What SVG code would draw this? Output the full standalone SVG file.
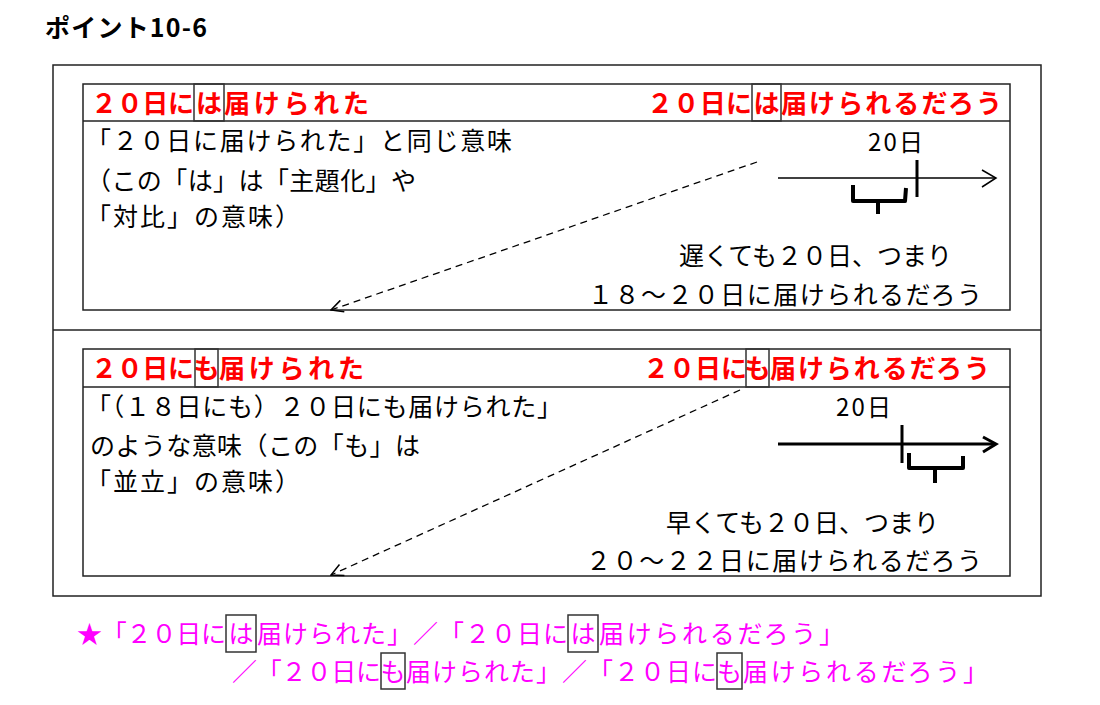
<svg xmlns="http://www.w3.org/2000/svg" width="1100" height="705" viewBox="0 0 1100 705">
<defs>
<style>
text{font-family:"Noto Sans CJK JP","Noto Sans CJK SC",sans-serif;}
.title{font-size:25px;font-weight:bold;fill:#000;}
.hd{font-size:26px;font-weight:bold;fill:#ff0000;}
.bd{font-size:25px;fill:#000;}
.lb{font-size:24px;fill:#000;}
.pk{font-size:25px;fill:#ff00ff;}
.frame{fill:none;stroke:#222;stroke-width:1.5;}
.hl{fill:none;stroke:#333;stroke-width:1.5;}
.axis{fill:none;stroke:#000;stroke-width:1.5;}
.axis2{fill:none;stroke:#000;stroke-width:3;}
.brace{fill:none;stroke:#000;stroke-width:4;stroke-linejoin:round;}
.dash{fill:none;stroke:#000;stroke-width:1.3;stroke-dasharray:7 5;}
</style>
<marker id="openArrow" viewBox="0 0 14 14" refX="13" refY="7" markerWidth="14" markerHeight="14" markerUnits="userSpaceOnUse" orient="auto">
<path d="M1,1 L13,7 L1,13" fill="none" stroke="#000" stroke-width="1.5"/>
</marker>
</defs>
<rect width="1100" height="705" fill="#fff"/>

<g id="title">
<text class="title" x="45" y="37" textLength="162" lengthAdjust="spacing">ポイント10-6</text>
</g>

<g id="outer-frame">
<rect class="frame" x="53" y="65" width="988" height="531"/>
<line class="frame" x1="53" y1="330" x2="1041" y2="330"/>
</g>

<g id="panel-wa">
<rect class="frame" x="83" y="84" width="927" height="226"/>
<line class="frame" x1="83" y1="121" x2="1010" y2="121"/>
<text class="hd" x="91" y="113" textLength="103" lengthAdjust="spacing">２０日に</text>
<rect class="hl" x="194" y="84" width="30" height="37"/>
<text class="hd" x="209" y="113" text-anchor="middle">は</text>
<text class="hd" x="224" y="113" textLength="145" lengthAdjust="spacing">届けられた</text>
<text class="hd" x="647" y="113" textLength="105" lengthAdjust="spacing">２０日に</text>
<rect class="hl" x="752" y="84" width="29" height="37"/>
<text class="hd" x="766.5" y="113" text-anchor="middle">は</text>
<text class="hd" x="781" y="113" textLength="221" lengthAdjust="spacing">届けられるだろう</text>
<text class="bd" x="86" y="150" textLength="426" lengthAdjust="spacing">「２０日に届けられた」と同じ意味</text>
<text class="bd" x="86" y="190" textLength="330" lengthAdjust="spacing">（この「は」は「主題化」や</text>
<text class="bd" x="86" y="226" textLength="214" lengthAdjust="spacing">「対比」の意味）</text>
<text class="lb" x="868" y="151" textLength="55" lengthAdjust="spacing">20日</text>
<line class="axis" x1="778" y1="178" x2="996" y2="178"/>
<path class="axis" d="M982,170 L996,178 L982,187"/>
<line class="axis2" x1="917" y1="160" x2="917" y2="197"/>
<path class="brace" d="M853,185 L853,201 L905,201 L906,188 M878,201 L878,214"/>
<text class="bd" x="679" y="265" textLength="273" lengthAdjust="spacing">遅くても２０日、つまり</text>
<text class="bd" x="588" y="304" textLength="394" lengthAdjust="spacing">１８～２０日に届けられるだろう</text>
</g>

<g id="panel-mo">
<rect class="frame" x="83" y="349" width="927" height="227"/>
<line class="frame" x1="83" y1="387" x2="1010" y2="387"/>
<text class="hd" x="91" y="378" textLength="103" lengthAdjust="spacing">２０日に</text>
<rect class="hl" x="195" y="349" width="23" height="38"/>
<text class="hd" x="206.5" y="378" text-anchor="middle">も</text>
<text class="hd" x="219" y="378" textLength="145" lengthAdjust="spacing">届けられた</text>
<text class="hd" x="643" y="378" textLength="104" lengthAdjust="spacing">２０日に</text>
<rect class="hl" x="746" y="349" width="23" height="38"/>
<text class="hd" x="757.5" y="378" text-anchor="middle">も</text>
<text class="hd" x="770" y="378" textLength="220" lengthAdjust="spacing">届けられるだろう</text>
<text class="bd" x="86" y="416" textLength="476" lengthAdjust="spacing">「（１８日にも）２０日にも届けられた」</text>
<text class="bd" x="90" y="455" textLength="330" lengthAdjust="spacing">のような意味（この「も」は</text>
<text class="bd" x="86" y="491" textLength="214" lengthAdjust="spacing">「並立」の意味）</text>
<text class="lb" x="836" y="416" textLength="55" lengthAdjust="spacing">20日</text>
<line class="axis2" x1="778" y1="444" x2="995" y2="444"/>
<path class="axis2" d="M983,437 L996,444 L983,452"/>
<line class="axis2" x1="902" y1="425" x2="902" y2="463"/>
<path class="brace" d="M909,453 L909,468 L963,468 L963,456 M935,468 L935,483"/>
<text class="bd" x="666" y="532" textLength="273" lengthAdjust="spacing">早くても２０日、つまり</text>
<text class="bd" x="586" y="570" textLength="396" lengthAdjust="spacing">２０～２２日に届けられるだろう</text>
</g>

<g id="connectors">
<line class="dash" x1="757" y1="162" x2="331" y2="310" marker-end="url(#openArrow)"/>
<line class="dash" x1="740" y1="390" x2="331" y2="575" marker-end="url(#openArrow)"/>
</g>

<g id="summary">
<text class="pk" x="77" y="643" textLength="149" lengthAdjust="spacing">★「２０日に</text>
<rect class="hl" x="226" y="615" width="30" height="37"/>
<text class="pk" x="241" y="643" text-anchor="middle">は</text>
<text class="pk" x="257" y="643" textLength="311" lengthAdjust="spacing">届けられた」／「２０日に</text>
<rect class="hl" x="568" y="615" width="30" height="37"/>
<text class="pk" x="583" y="643" text-anchor="middle">は</text>
<text class="pk" x="599" y="643" textLength="245" lengthAdjust="spacing">届けられるだろう」</text>
<text class="pk" x="232" y="681" textLength="149" lengthAdjust="spacing">／「２０日に</text>
<rect class="hl" x="381" y="653" width="24" height="36"/>
<text class="pk" x="393" y="681" text-anchor="middle">も</text>
<text class="pk" x="406" y="681" textLength="311" lengthAdjust="spacing">届けられた」／「２０日に</text>
<rect class="hl" x="717" y="653" width="25" height="36"/>
<text class="pk" x="729.5" y="681" text-anchor="middle">も</text>
<text class="pk" x="743" y="681" textLength="245" lengthAdjust="spacing">届けられるだろう」</text>
</g>
</svg>
